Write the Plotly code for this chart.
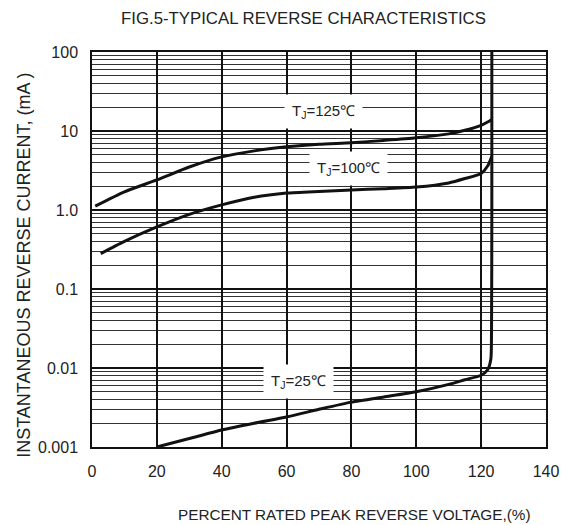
import math
import plotly.graph_objects as go

# Data
x_125 = [1, 10, 20, 30, 40, 50, 60, 70, 80, 90, 100, 110, 115, 120, 122, 123.3]
y_125 = [1.12, 1.7, 2.4, 3.5, 4.7, 5.6, 6.3, 6.8, 7.1, 7.6, 8.2, 9.2, 10.2, 11.8, 13.0, 14.0]

x_100 = [2.7, 10, 20, 30, 40, 50, 60, 70, 80, 90, 100, 110, 115, 120, 122, 123.3]
y_100 = [0.28, 0.4, 0.61, 0.88, 1.16, 1.45, 1.64, 1.72, 1.79, 1.86, 1.95, 2.2, 2.5, 2.9, 3.6, 4.8]

x_25 = [20, 30, 40, 50, 60, 70, 80, 90, 100, 110, 115, 120, 122, 123, 123.2, 123.3, 123.3]
y_25 = [0.001, 0.00128, 0.00164, 0.002, 0.0024, 0.003, 0.0037, 0.0043, 0.005, 0.0062, 0.0071, 0.0081, 0.0095, 0.013, 0.03, 1.0, 100]

x_ticks = [0, 20, 40, 60, 80, 100, 120, 140]
y_ticks = [0.001, 0.01, 0.1, 1, 10, 100]
y_tick_labels = ["0.001", "0.01", "0.1", "1.0", "10", "100"]

labels = ["T<sub>J</sub>=125℃", "T<sub>J</sub>=100℃", "T<sub>J</sub>=25℃"]
label_x = [71.5, 79, 63.6]
label_y = [17.5, 3.4, 0.0068]

FONT = "Liberation Sans, Arial, sans-serif"
TXT = "#222"
fig = go.Figure()
for xs, ys in [(x_125, y_125), (x_100, y_100), (x_25, y_25)]:
    fig.add_trace(go.Scatter(x=xs, y=ys, mode="lines",
                             line=dict(color="#111", width=3, shape="spline", smoothing=0.6),
                             showlegend=False, hoverinfo="skip"))

for t, lx, ly in zip(labels, label_x, label_y):
    fig.add_annotation(x=lx, y=math.log10(ly), text=t, showarrow=False, bgcolor="white",
                       xanchor="center", yanchor="middle",
                       font=dict(family=FONT, size=15, color=TXT), borderpad=7)

fig.update_layout(
    width=569, height=525,
    margin=dict(l=92, r=10, t=52, b=78),
    paper_bgcolor="white", plot_bgcolor="white",
    xaxis=dict(range=[0, 140], tickvals=x_ticks, showgrid=True, gridcolor="#111", gridwidth=1.5,
               showline=True, linecolor="#111", linewidth=1.5, mirror=True, zeroline=False,
               ticks="", tickfont=dict(family=FONT, size=16, color=TXT), ticklabelstandoff=9,
               ticklabeloverflow="allow"),
    yaxis=dict(type="log", range=[-3, 2], tickvals=y_ticks, ticktext=y_tick_labels,
               showgrid=True, gridcolor="#111", gridwidth=1.5,
               minor=dict(dtick="D1", showgrid=True, gridcolor="#333", gridwidth=1.2),
               showline=True, linecolor="#111", linewidth=1.5, mirror=True, zeroline=False,
               ticks="", tickfont=dict(family=FONT, size=16, color=TXT), ticklabelstandoff=9),
)
fig.add_annotation(xref="paper", yref="paper", x=0.465, y=1.085, xanchor="center", yanchor="middle",
                   text="FIG.5-TYPICAL REVERSE CHARACTERISTICS",
                   showarrow=False, font=dict(family=FONT, size=16.8, color=TXT))
fig.add_annotation(xref="paper", yref="paper", x=0.576, y=-0.172, xanchor="center", yanchor="middle",
                   text="PERCENT RATED PEAK REVERSE VOLTAGE,(%)",
                   showarrow=False, font=dict(family=FONT, size=15.3, color=TXT))
fig.add_annotation(xref="paper", yref="paper", x=-0.150, y=0.461, xanchor="center", yanchor="middle",
                   text="INSTANTANEOUS REVERSE CURRENT, (mA )",
                   textangle=-90, showarrow=False, font=dict(family=FONT, size=18, color=TXT))
# remove the default page margin so the figure sits at the window's corner
fig.write_html("out.html", config={"displayModeBar": False},
               post_script="document.body.style.margin='0';")
